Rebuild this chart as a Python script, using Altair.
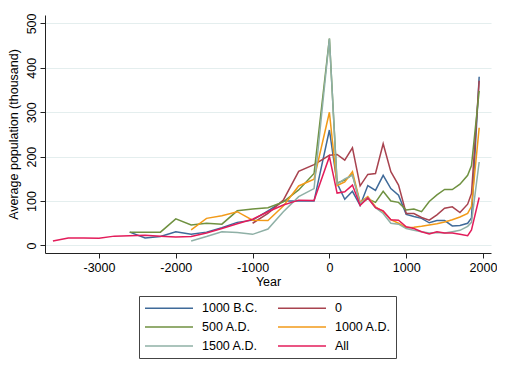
import altair as alt
import pandas as pd

series_names = ["1000 B.C.", "0", "500 A.D.", "1000 A.D.", "1500 A.D.", "All"]
series_colors = ["#3f6a99", "#a8434f", "#6f9140", "#f29a18", "#8fb0a6", "#e31c5a"]
# legend fills column by column: reorder so rows read 1000 B.C./0, 500 A.D./1000 A.D., 1500 A.D./All
legend_order = ["1000 B.C.", "500 A.D.", "1500 A.D.", "0", "1000 A.D.", "All"]
legend_colors = [series_colors[series_names.index(n)] for n in legend_order]

late_years = list(range(0, 1801, 100)) + [1850, 1950]

years_bc1000 = list(range(-2600, -199, 200)) + late_years
vals_bc1000 = [30, 17, 20, 31, 25, 30, 40, 52, 57, 78, 100, 100, 100,
               260, 140, 104, 122, 90, 135, 124, 158, 128, 113, 70, 65, 61, 51, 56, 56, 44, 45, 50, 62, 380]

years_0 = list(range(-1000, -199, 200)) + late_years
vals_0 = [50, 72, 102, 167, 182,
          203, 205, 192, 220, 134, 160, 162, 229, 166, 136, 72, 72, 63, 57, 69, 84, 87, 74, 93, 117, 371]

years_ad500 = list(range(-2600, -199, 200)) + late_years
vals_ad500 = [30, 30, 30, 60, 46, 50, 48, 78, 82, 85, 98, 125, 162,
              466, 141, 147, 160, 95, 105, 97, 122, 100, 97, 80, 82, 76, 99, 114, 126, 126, 138, 158, 180, 348]

years_ad1000 = list(range(-1800, -199, 200)) + late_years
vals_ad1000 = [35, 61, 67, 76, 57, 56, 89, 134, 149,
               300, 135, 143, 166, 97, 110, 87, 76, 58, 50, 40, 41, 43, 46, 49, 53, 58, 64, 72, 88, 265]

years_ad1500 = list(range(-1800, -199, 200)) + late_years
vals_ad1500 = [10, 20, 31, 29, 25, 37, 76, 110, 128,
               466, 138, 150, 158, 95, 108, 85, 72, 50, 48, 38, 34, 31, 28, 29, 28, 31, 34, 43, 52, 188]

years_all = list(range(-3600, -199, 200)) + late_years
vals_all = [10, 17, 17, 16, 21, 22, 23, 21, 19, 20, 28, 38, 49, 59, 76, 91, 102, 101,
            200, 118, 121, 136, 90, 107, 85, 78, 58, 57, 42, 38, 31, 26, 31, 28, 28, 25, 22, 35, 108]

x_ticks = [-3000, -2000, -1000, 0, 1000, 2000]
y_ticks = [0, 100, 200, 300, 400, 500]

rows = []
for name, yrs, vals in zip(series_names,
                           [years_bc1000, years_0, years_ad500, years_ad1000, years_ad1500, years_all],
                           [vals_bc1000, vals_0, vals_ad500, vals_ad1000, vals_ad1500, vals_all]):
    for yr, v in zip(yrs, vals):
        rows.append({"series": name, "year": yr, "pop": v})
df = pd.DataFrame(rows)

FONT = "Liberation Sans"

chart = alt.Chart(df).mark_line(strokeWidth=1.5, clip=True).encode(
    x=alt.X("year:Q",
            scale=alt.Scale(domain=[-3703, 2104], nice=False, zero=False),
            axis=alt.Axis(values=x_ticks, title="Year", grid=False,
                          labelExpr="'' + datum.value",
                          labelPadding=3, titlePadding=2, tickSize=5,
                          labelFlush=False)),
    y=alt.Y("pop:Q",
            scale=alt.Scale(domain=[-17, 519], nice=False, zero=False),
            axis=alt.Axis(values=y_ticks, title="Average population (thousand)",
                          grid=True, gridColor="#e4eeee", gridWidth=1.2,
                          labelAngle=270, labelAlign="center", labelBaseline="bottom",
                          labelPadding=2, tickSize=5, titleX=-32, titleY=119,
                          titleAngle=270, titleAlign="center", titleBaseline="middle",
                          labelFlush=False)),
    color=alt.Color("series:N",
                    scale=alt.Scale(domain=legend_order, range=legend_colors),
                    legend=alt.Legend(title=None, orient="none", legendX=94, legendY=281,
                                      columns=2, symbolType="M-1,0H7", symbolSize=144,
                                      symbolStrokeWidth=1.5, labelOffset=44,
                                      columnPadding=17, rowPadding=5,
                                      labelFontSize=12.5, labelFont=FONT, labelColor="black",
                                      strokeColor="#444", padding=5)),
).properties(
    width=446, height=238,
    autosize=alt.AutoSizeParams(type="none"),
    padding={"left": 37, "top": 7, "right": 6, "bottom": 110},
).configure_axis(
    domainColor="#222", tickColor="#222", labelColor="black", titleColor="black",
    labelFont=FONT, titleFont=FONT, labelFontSize=12.5, titleFontSize=12.5,
    titleFontWeight="normal",
).configure_view(stroke=None)

chart.save("out.html", embed_options={"renderer": "svg", "actions": False})
